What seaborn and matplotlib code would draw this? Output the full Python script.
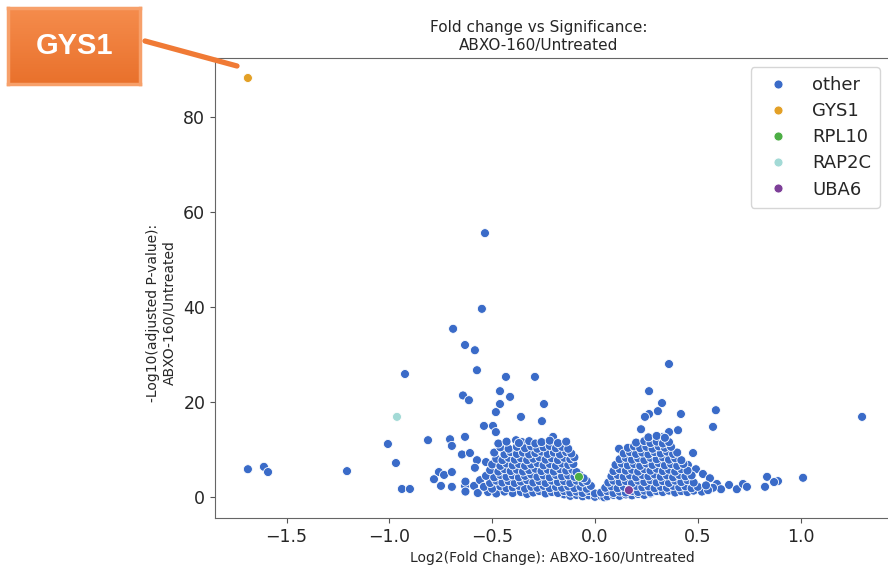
import numpy as np
import pandas as pd
import matplotlib
matplotlib.use("Agg")
import matplotlib.pyplot as plt
from matplotlib.lines import Line2D
from matplotlib.colors import LinearSegmentedColormap
import seaborn as sns

# highlighted genes (log2 fold change, -log10 adj p)
genes = ["GYS1", "RPL10", "RAP2C", "UBA6"]
genes_fc = [-1.688, -0.078, -0.963, 0.165]
genes_p = [88.1, 4.3, 16.9, 1.5]

# scattered "other" points away from the dense cloud
outliers_left = [
    (-0.535, 55.5), (-0.55, 39.6), (-0.69, 35.4), (-0.632, 32.0), (-0.584, 30.9),
    (-0.924, 25.9), (-0.574, 26.7), (-0.433, 25.3), (-0.292, 25.3), (-0.642, 21.4),
    (-0.613, 20.4), (-0.462, 22.3), (-0.413, 21.1), (-0.462, 19.6), (-0.248, 19.6),
    (-0.482, 17.9), (-0.36, 16.9), (-0.258, 16.0), (-1.688, 5.9), (-1.61, 6.4),
    (-1.59, 5.3), (-1.206, 5.5), (-1.007, 11.2), (-0.968, 7.2), (-0.939, 1.75),
    (-0.90, 1.75), (-0.812, 12.0), (-0.705, 12.2), (-0.696, 10.8), (-0.632, 12.7),
    (-0.54, 15.0), (-0.496, 15.0), (-0.482, 13.7), (-0.355, 11.6), (-0.384, 12.0),
    (-0.204, 12.7), (-0.647, 9.0), (-0.608, 9.3), (-0.574, 7.8), (-0.53, 7.4),
    (-0.759, 5.3), (-0.734, 4.7), (-0.696, 5.3), (-0.584, 6.2), (-0.783, 3.8),
    (-0.749, 2.4), (-0.696, 2.2), (-0.632, 2.4), (-0.588, 2.4), (-0.559, 3.6),
]
outliers_right = [
    (0.36, 28.0), (0.263, 22.3), (0.326, 19.8), (0.306, 18.1), (0.263, 17.5),
    (0.243, 16.9), (0.418, 17.5), (0.588, 18.3), (0.574, 14.8), (1.299, 16.9),
    (0.224, 14.3), (0.36, 13.7), (0.404, 14.1), (0.117, 10.2), (0.477, 9.3),
    (0.452, 6.8), (0.491, 5.9), (0.525, 4.9), (0.559, 4.0), (0.837, 4.3),
    (0.89, 3.4), (0.871, 3.2), (1.012, 4.1), (0.827, 2.2), (0.652, 2.6),
    (0.69, 1.7), (0.72, 2.8), (0.739, 2.2), (0.593, 2.8), (0.613, 1.7),
    (0.574, 2.0), (0.297, 12.5), (0.331, 12.7),
]

# dense cloud, left of zero
cloud_left = [
    (-0.15, 0.6), (-0.12, 0.3), (-0.09, 0.5), (-0.06, 0.2), (-0.03, 0.4), (0.0, 0.1), (0.03, 0.3), (0.045, 0.0),
    (-0.63, 1.2), (-0.57, 0.9), (-0.52, 1.1), (-0.48, 0.8), (-0.44, 1.2), (-0.40, 0.9), (-0.36, 1.1),
    (-0.33, 0.7), (-0.30, 1.0), (-0.27, 1.3), (-0.24, 0.8), (-0.21, 1.1), (-0.18, 0.9), (-0.15, 1.3),
    (-0.12, 1.0), (-0.09, 1.2), (-0.06, 0.9), (-0.03, 1.3), (0.0, 0.8),
    (-0.54, 2.2), (-0.50, 1.8), (-0.46, 2.3), (-0.43, 1.9), (-0.40, 2.1), (-0.37, 2.4), (-0.34, 1.8),
    (-0.31, 2.2), (-0.28, 2.0), (-0.25, 2.4), (-0.22, 1.9), (-0.19, 2.2), (-0.16, 2.0), (-0.13, 2.3),
    (-0.10, 1.9), (-0.07, 2.2), (-0.04, 1.8), (-0.02, 2.4),
    (-0.63, 3.3), (-0.51, 3.0), (-0.48, 3.5), (-0.45, 3.1), (-0.42, 3.4), (-0.39, 3.0), (-0.36, 3.3),
    (-0.33, 3.6), (-0.30, 3.1), (-0.27, 3.4), (-0.24, 3.0), (-0.21, 3.5), (-0.18, 3.2), (-0.15, 3.4),
    (-0.12, 3.0), (-0.09, 3.5), (-0.06, 3.1), (-0.04, 3.4),
    (-0.53, 4.5), (-0.49, 4.2), (-0.46, 4.7), (-0.43, 4.3), (-0.40, 4.6), (-0.37, 4.2), (-0.34, 4.5),
    (-0.31, 4.8), (-0.28, 4.3), (-0.25, 4.6), (-0.22, 4.2), (-0.19, 4.7), (-0.16, 4.4), (-0.13, 4.6),
    (-0.10, 4.3), (-0.075, 4.7), (-0.055, 4.0),
    (-0.51, 5.7), (-0.47, 5.4), (-0.44, 5.9), (-0.41, 5.5), (-0.38, 5.8), (-0.35, 5.4), (-0.32, 5.7),
    (-0.29, 6.0), (-0.26, 5.5), (-0.23, 5.8), (-0.20, 5.4), (-0.17, 5.9), (-0.14, 5.6), (-0.11, 5.8),
    (-0.09, 5.3),
    (-0.50, 6.9), (-0.46, 6.6), (-0.43, 7.1), (-0.40, 6.7), (-0.37, 7.0), (-0.34, 6.6), (-0.31, 6.9),
    (-0.28, 7.2), (-0.25, 6.7), (-0.22, 7.0), (-0.19, 6.6), (-0.16, 7.1), (-0.13, 6.8), (-0.105, 7.0),
    (-0.48, 8.1), (-0.45, 7.8), (-0.42, 8.3), (-0.39, 7.9), (-0.36, 8.2), (-0.33, 7.8), (-0.30, 8.1),
    (-0.27, 8.4), (-0.24, 7.9), (-0.21, 8.2), (-0.18, 7.8), (-0.15, 8.3), (-0.12, 8.0), (-0.10, 8.4),
    (-0.49, 9.4), (-0.44, 9.0), (-0.41, 9.5), (-0.38, 9.1), (-0.35, 9.4), (-0.32, 9.0), (-0.29, 9.3),
    (-0.26, 9.6), (-0.23, 9.1), (-0.20, 9.4), (-0.17, 9.0), (-0.14, 9.5), (-0.115, 9.2),
    (-0.46, 10.5), (-0.42, 10.2), (-0.38, 10.6), (-0.34, 10.3), (-0.31, 10.7), (-0.28, 10.2),
    (-0.25, 10.5), (-0.22, 10.8), (-0.19, 10.3), (-0.16, 10.6), (-0.13, 10.2),
    (-0.47, 11.3), (-0.43, 11.7), (-0.37, 11.4), (-0.32, 11.8), (-0.29, 11.3), (-0.26, 11.6),
    (-0.22, 11.9), (-0.18, 11.4), (-0.14, 11.7),
]

# dense cloud, right of zero
cloud_right = [
    (0.06, 0.2), (0.09, 0.5), (0.12, 0.3), (0.15, 0.6), (0.18, 0.4), (0.21, 0.7), (0.24, 0.5), (0.27, 0.8),
    (0.03, 1.0), (0.06, 1.3), (0.09, 0.9), (0.12, 1.2), (0.15, 1.0), (0.18, 1.3), (0.21, 1.1), (0.24, 1.4),
    (0.27, 1.0), (0.30, 1.3), (0.33, 1.1), (0.36, 1.4), (0.39, 1.0), (0.42, 1.3), (0.45, 1.1), (0.48, 1.4),
    (0.52, 1.2), (0.55, 1.5),
    (0.05, 2.0), (0.08, 2.3), (0.11, 1.9), (0.14, 2.2), (0.17, 2.0), (0.20, 2.4), (0.23, 2.1), (0.26, 2.3),
    (0.29, 1.9), (0.32, 2.2), (0.35, 2.0), (0.38, 2.4), (0.41, 2.1), (0.44, 2.3), (0.47, 1.9), (0.50, 2.2),
    (0.54, 2.5),
    (0.065, 3.1), (0.09, 3.5), (0.12, 3.2), (0.15, 3.4), (0.18, 3.0), (0.21, 3.5), (0.24, 3.2), (0.27, 3.6),
    (0.30, 3.1), (0.33, 3.4), (0.36, 3.0), (0.39, 3.5), (0.42, 3.2), (0.45, 3.6), (0.48, 3.1),
    (0.08, 4.4), (0.11, 4.7), (0.14, 4.3), (0.17, 4.6), (0.20, 4.2), (0.23, 4.7), (0.26, 4.4), (0.29, 4.8),
    (0.32, 4.3), (0.35, 4.6), (0.38, 4.2), (0.41, 4.7), (0.44, 4.4), (0.47, 4.6),
    (0.09, 5.5), (0.12, 5.9), (0.15, 5.6), (0.18, 5.8), (0.21, 5.4), (0.24, 5.9), (0.27, 5.6), (0.30, 6.0),
    (0.33, 5.5), (0.36, 5.8), (0.39, 5.4), (0.42, 5.9), (0.45, 5.6),
    (0.10, 6.8), (0.13, 7.1), (0.16, 6.7), (0.19, 7.0), (0.22, 6.6), (0.25, 7.1), (0.28, 6.8), (0.31, 7.2),
    (0.34, 6.7), (0.37, 7.0), (0.40, 6.6), (0.43, 7.0),
    (0.12, 8.0), (0.15, 8.3), (0.18, 7.9), (0.21, 8.2), (0.24, 7.8), (0.27, 8.3), (0.30, 8.0), (0.33, 8.4),
    (0.36, 7.9), (0.39, 8.2), (0.42, 7.8),
    (0.14, 9.2), (0.17, 9.5), (0.20, 9.1), (0.23, 9.4), (0.26, 9.0), (0.29, 9.5), (0.32, 9.2), (0.35, 9.6),
    (0.38, 9.1), (0.40, 9.4),
    (0.16, 10.4), (0.19, 10.7), (0.22, 10.3), (0.25, 10.6), (0.28, 10.2), (0.31, 10.7), (0.34, 10.4), (0.37, 10.6),
    (0.20, 11.5), (0.24, 11.8), (0.27, 11.4), (0.30, 11.7), (0.33, 11.3), (0.36, 11.6),
    (0.26, 12.6), (0.30, 12.9), (0.34, 12.5),
]

hue_order = ["other", "GYS1", "RPL10", "RAP2C", "UBA6"]
colors = {"other": "#3a6bc8", "GYS1": "#e3a026", "RPL10": "#4cae45",
          "RAP2C": "#a3dad6", "UBA6": "#7d3f98"}

other = outliers_left + outliers_right + cloud_left + cloud_right
df = pd.DataFrame(other, columns=["fc", "p"])
df["gene"] = "other"
df = pd.concat([df, pd.DataFrame({"fc": genes_fc, "p": genes_p, "gene": genes})],
               ignore_index=True)

sns.set_style("ticks")
plt.rcParams["font.family"] = ["DejaVu Sans"]

fig = plt.figure(figsize=(8.88, 5.65), dpi=100)
ax = fig.add_axes([215 / 888, 1 - 518 / 565, 674 / 888, 460 / 565])

sns.scatterplot(data=df, x="fc", y="p", hue="gene", hue_order=hue_order,
                palette=colors, s=42, edgecolor="white", linewidth=0.6,
                ax=ax)

ax.set_xlim(-1.848, 1.43)
ax.set_ylim(-4.35, 92.3)
ax.set_xticks([-1.5, -1.0, -0.5, 0.0, 0.5, 1.0])
ax.set_yticks([0, 20, 40, 60, 80])
ax.tick_params(labelsize=12.5, color="#555555")
for sp in ax.spines.values():
    sp.set_color("#666666")

ax.set_title("Fold change vs Significance:\nABXO-160/Untreated", fontsize=11, x=0.48)
ax.set_xlabel("Log2(Fold Change): ABXO-160/Untreated", fontsize=10)
ax.set_ylabel("-Log10(adjusted P-value):\nABXO-160/Untreated", fontsize=10)
ax.yaxis.set_label_coords(-0.058, 0.446)

handles, labels = ax.get_legend_handles_labels()
ax.legend(handles, labels, loc="upper right", fontsize=13, frameon=True,
          handletextpad=0.9, labelspacing=0.45, borderpad=0.5)

# orange callout box with the gene name
bax = fig.add_axes([8 / 888, 1 - 84 / 565, 132 / 888, 76 / 565])
grad = LinearSegmentedColormap.from_list("o", ["#f58c4c", "#e9712c"])
bax.imshow(np.linspace(0, 1, 50).reshape(-1, 1), cmap=grad, aspect="auto",
           extent=[0, 1, 0, 1], origin="upper")
bax.set_xlim(0, 1)
bax.set_ylim(0, 1)
bax.set_xticks([])
bax.set_yticks([])
for sp in bax.spines.values():
    sp.set_color("#f7a06a")
    sp.set_linewidth(2.5)
bax.text(0.5, 0.5, "GYS1", color="white", fontsize=21, fontweight="bold",
         family="Liberation Sans", ha="center", va="center")

fig.add_artist(Line2D([145 / 888, 237 / 888], [1 - 41 / 565, 1 - 66 / 565],
                      transform=fig.transFigure, color="#f07a35", lw=3.8))

fig.savefig("out.png", dpi=100)
